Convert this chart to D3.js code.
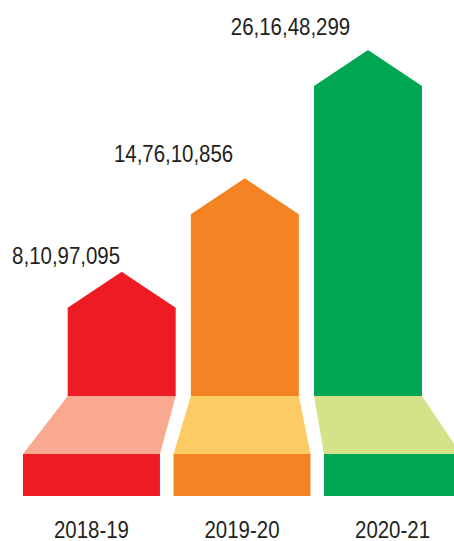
<!DOCTYPE html>
<html>
<head>
<meta charset="utf-8">
<script src="https://cdn.jsdelivr.net/npm/d3@7"></script>
<style>
  html, body { margin: 0; padding: 0; background: #fff; }
  svg { display: block; }
  text { font-family: "Liberation Sans", Arial, Helvetica, sans-serif; fill: #231f20; }
</style>
</head>
<body>
<svg id="chart" width="454" height="541"></svg>
<script>
// ---- data ----
const categories = ["2018-19", "2019-20", "2020-21"];
const values = [81097095, 147610856, 261648299];
const valueLabels = ["8,10,97,095", "14,76,10,856", "26,16,48,299"];
const darkColors = ["#ed1c24", "#f48423", "#00a651"];
const lightColors = ["#f8a98f", "#fdcb64", "#d4e28a"];

// ---- layout ----
const svg = d3.select("#chart");

const arrowBottom = 396, baseTop = 454, baseBottom = 496;
const headH = 36;
const condense = 0.87;
const fontSize = 23.5;

const xArrow = d3.scaleBand().domain(categories).range([67.7, 422]).paddingInner(0.123).paddingOuter(0);
const xBase = d3.scaleBand().domain(categories).range([23, 461]).paddingInner(0.09).paddingOuter(0);
const y = d3.scalePow().exponent(0.62).domain([0, d3.max(values)]).range([479.4, 50]);

const labelDx = [-55.6, -71.3, -77.5];
const labelDy = [7.2, 16, 15];

const data = categories.map((c, i) => ({ c, v: values[i], label: valueLabels[i], dark: darkColors[i], light: lightColors[i], i }));

const g = svg.append("g");

// base rectangles
g.selectAll("rect.base").data(data).join("rect")
  .attr("class", "base")
  .attr("x", d => xBase(d.c))
  .attr("y", baseTop)
  .attr("width", xBase.bandwidth())
  .attr("height", baseBottom - baseTop)
  .attr("fill", d => d.dark);

// trapezoids
g.selectAll("path.trap").data(data).join("path")
  .attr("class", "trap")
  .attr("fill", d => d.light)
  .attr("d", d => {
    const a0 = xArrow(d.c), a1 = a0 + xArrow.bandwidth();
    const b0 = xBase(d.c), b1 = b0 + xBase.bandwidth();
    return `M${a0},${arrowBottom}L${a1},${arrowBottom}L${b1},${baseTop}L${b0},${baseTop}Z`;
  });

// arrows
g.selectAll("path.arrow").data(data).join("path")
  .attr("class", "arrow")
  .attr("fill", d => d.dark)
  .attr("d", d => {
    const a0 = xArrow(d.c), a1 = a0 + xArrow.bandwidth(), am = (a0 + a1) / 2;
    const tip = y(d.v), sh = tip + headH;
    return `M${a0},${arrowBottom}L${a0},${sh}L${am},${tip}L${a1},${sh}L${a1},${arrowBottom}Z`;
  });

// value labels
g.selectAll("text.val").data(data).join("text")
  .attr("class", "val")
  .attr("transform", d => `translate(${xArrow(d.c) + xArrow.bandwidth() / 2 + labelDx[d.i]},${y(d.v) - labelDy[d.i]}) scale(${condense},1)`)
  .attr("text-anchor", "middle")
  .style("font-size", fontSize + "px")
  .text(d => d.label);

// category labels (axis)
const axis = d3.axisBottom(xBase).tickSize(0).tickPadding(0);
const ax = svg.append("g").attr("transform", `translate(0,${baseBottom})`).call(axis);
ax.select(".domain").remove();
ax.selectAll(".tick text")
  .attr("y", 0)
  .attr("dy", 0)
  .attr("transform", `translate(0,42.3) scale(${condense},1)`)
  .style("font-size", fontSize + "px")
  .style("font-family", "'Liberation Sans', Arial, sans-serif")
  .attr("fill", "#231f20");
</script>
</body>
</html>
